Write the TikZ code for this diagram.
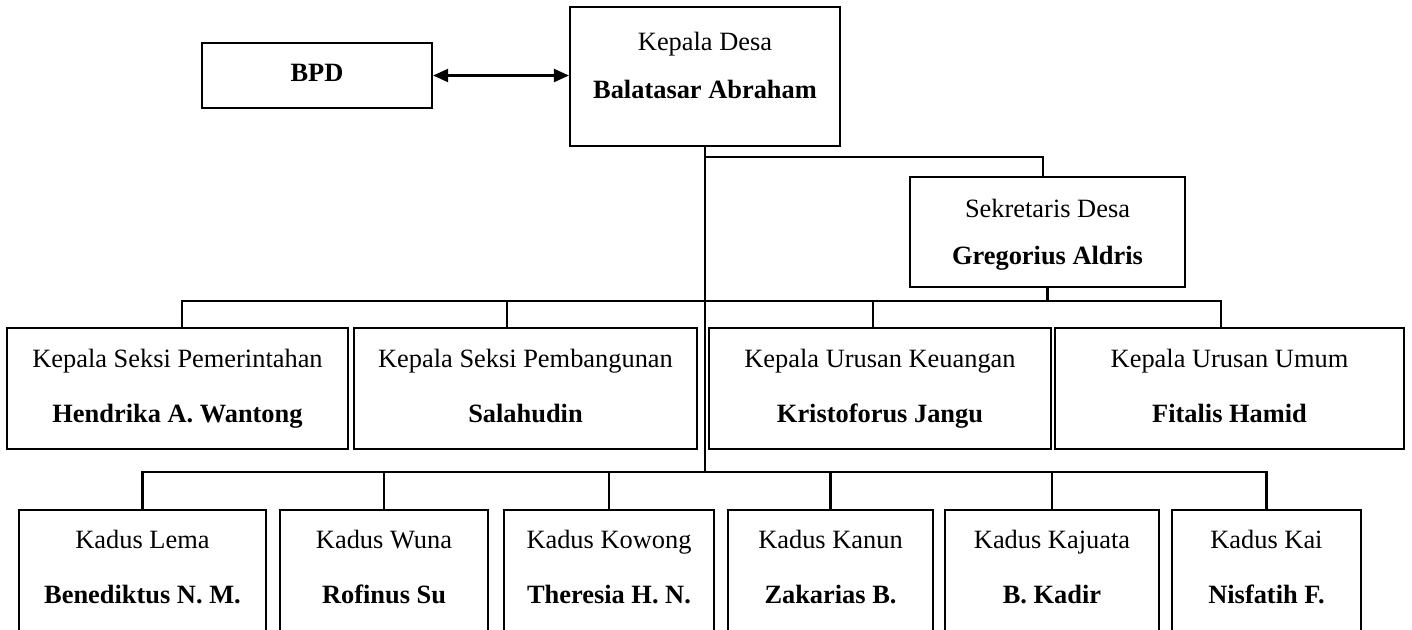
\documentclass[tikz,border=0pt]{standalone}
\usepackage{fontspec}
\setmainfont{Liberation Serif}
\usetikzlibrary{arrows.meta}

\begin{document}
\begin{tikzpicture}[
    x=0.5pt, y=-0.5pt,
    element/.style={draw, rectangle, line width=1.1pt, align=center, inner sep=0pt, font=\fontsize{13.2}{15.6}\selectfont},
    top/.style={element},
    kasi/.style={element, minimum height=60.5pt},
    kadus/.style={element, minimum height=61pt},
    link/.style={line width=1.1pt},
    arrow/.style={link, {Triangle[length=7.5pt,width=6.5pt]}-{Triangle[length=7.5pt,width=6.5pt]}}
]
    \useasboundingbox (0,0) rectangle (1412,629);
    \clip (0,0) rectangle (1412,629);

    \node[top, minimum width=115pt, minimum height=32.5pt] (bpd) at (317,75.5) {\strut\textbf{BPD}};
    \node[top, minimum width=135pt, minimum height=69.5pt] (kades) at (705,76.5) {\strut Kepala Desa\\[8.4pt]\strut\textbf{Balatasar Abraham}\\[-7.5pt]\strut};
    \node[top, minimum width=137.5pt, minimum height=55pt] (sekdes) at (1047.5,232) {\rule{0pt}{13.9pt}Sekretaris Desa\\[7.9pt]\strut\textbf{Gregorius Aldris}};

    \node[kasi, minimum width=170.5pt] (kasipem) at (177.5,388.5) {\strut Kepala Seksi Pemerintahan\\[11.9pt]\strut\textbf{Hendrika A. Wantong}};
    \node[kasi, minimum width=171.5pt] (kasipemb) at (525.5,388.5) {\strut Kepala Seksi Pembangunan\\[11.9pt]\strut\textbf{Salahudin}};
    \node[kasi, minimum width=171pt] (kaurkeu) at (880,388.5) {\strut Kepala Urusan Keuangan\\[11.9pt]\strut\textbf{Kristoforus Jangu}};
    \node[kasi, minimum width=174.5pt] (kaurum) at (1229.5,388.5) {\strut Kepala Urusan Umum\\[11.9pt]\strut\textbf{Fitalis Hamid}};

    \node[kadus, minimum width=123.5pt] (lema) at (142.5,571) {\strut Kadus Lema\\[11.9pt]\strut\textbf{Benediktus N. M.}\\[-14pt]\strut};
    \node[kadus, minimum width=104pt] (wuna) at (384,571) {\strut Kadus Wuna\\[11.9pt]\strut\textbf{Rofinus Su}\\[-14pt]\strut};
    \node[kadus, minimum width=105pt] (kowong) at (609,571) {\strut Kadus Kowong\\[11.9pt]\strut\textbf{Theresia H. N.}\\[-14pt]\strut};
    \node[kadus, minimum width=102.5pt] (kanun) at (830.5,571) {\strut Kadus Kanun\\[11.9pt]\strut\textbf{Zakarias B.}\\[-14pt]\strut};
    \node[kadus, minimum width=107pt] (kajuata) at (1052,571) {\strut Kadus Kajuata\\[11.9pt]\strut\textbf{B. Kadir}\\[-14pt]\strut};
    \node[kadus, minimum width=94.5pt] (kai) at (1266.5,571) {\strut Kadus Kai\\[11.9pt]\strut\textbf{Nisfatih F.}\\[-14pt]\strut};

    % branch points on the trunk
    \coordinate (cabang) at (705,157);
    \coordinate (baris2) at (705,301);
    \coordinate (baris3) at (705,472);

    \draw[arrow] (bpd.east) -- (bpd.east -| kades.west);
    \draw[link] (kades.south) -- (baris3);
    \draw[link] (cabang) -| ([xshift=-2.25pt]sekdes.north);
    \draw[link] (sekdes.south) -- (sekdes.south |- baris2);

    % seksi dan urusan
    \draw[link] ([xshift=2.25pt]kasipem.north) -- ([xshift=2.25pt]kasipem.north |- baris2) -- ([xshift=-4.25pt]kaurum.north |- baris2) -- ([xshift=-4.25pt]kaurum.north);
    \draw[link] ([xshift=-9.25pt]kasipemb.north) -- ([xshift=-9.25pt]kasipemb.north |- baris2);
    \draw[link] ([xshift=-3.5pt]kaurkeu.north) -- ([xshift=-3.5pt]kaurkeu.north |- baris2);

    % dusun
    \draw[link] (lema.north) -- (lema.north |- baris3) -- (kai.north |- baris3) -- (kai.north);
    \draw[link] (wuna.north) -- (wuna.north |- baris3);
    \draw[link] (kowong.north) -- (kowong.north |- baris3);
    \draw[link] (kanun.north) -- (kanun.north |- baris3);
    \draw[link] (kajuata.north) -- (kajuata.north |- baris3);
\end{tikzpicture}
\end{document}
